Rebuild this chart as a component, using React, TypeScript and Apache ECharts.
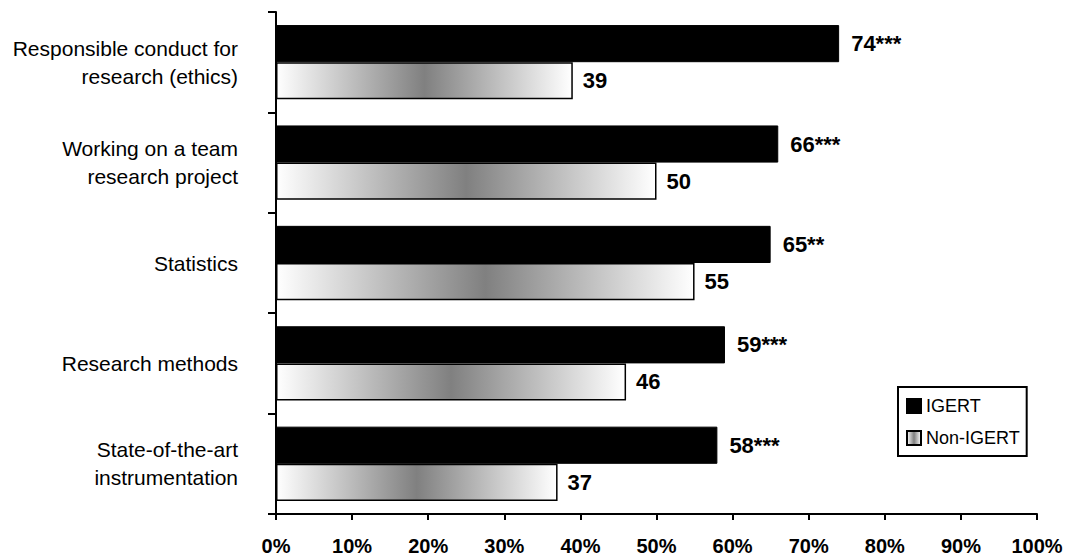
import React, { useEffect, useRef } from "react";
import * as echarts from "echarts";

const categories = [
  "Responsible conduct for\nresearch (ethics)",
  "Working on a team\nresearch project",
  "Statistics",
  "Research methods",
  "State-of-the-art\ninstrumentation",
];
const igertValues = [74, 66, 65, 59, 58];
const igertSig = ["***", "***", "**", "***", "***"];
const nonIgertValues = [39, 50, 55, 46, 37];
const xTicks = { min: 0, max: 100, interval: 10 };

const FONT = 'Arial, "Liberation Sans", sans-serif';

export default function App() {
  const ref = useRef<HTMLDivElement>(null);
  useEffect(() => {
    document.body.style.margin = "0";
    const chart = echarts.init(ref.current!, null, { renderer: "svg" });
    const grad = new echarts.graphic.LinearGradient(0, 0, 1, 0, [
      { offset: 0, color: "#ffffff" },
      { offset: 0.5, color: "#808080" },
      { offset: 1, color: "#ffffff" },
    ]);
    chart.setOption({
      animation: false,
      backgroundColor: "#ffffff",
      grid: { left: 276, right: 30, top: 12, bottom: 42, containLabel: false },
      legend: {
        orient: "vertical",
        left: 898,
        top: 387,
        padding: [10, 7, 9, 8],
        itemGap: 14,
        itemWidth: 14,
        itemHeight: 14,
        icon: "rect",
        borderColor: "#000",
        borderWidth: 2,
        backgroundColor: "#fff",
        textStyle: { fontFamily: FONT, fontSize: 18, color: "#000" },
        data: ["IGERT", "Non-IGERT"],
      },
      xAxis: {
        type: "value",
        min: xTicks.min,
        max: xTicks.max,
        interval: xTicks.interval,
        axisLine: { show: true, lineStyle: { color: "#000", width: 2 } },
        axisTick: { show: true, length: 6, lineStyle: { color: "#000", width: 2 } },
        splitLine: { show: false },
        axisLabel: {
          formatter: "{value}%",
          fontFamily: FONT,
          fontWeight: "bold",
          fontSize: 20,
          color: "#000",
          margin: 22,
        },
      },
      yAxis: {
        type: "category",
        inverse: true,
        data: categories,
        axisLine: { show: true, lineStyle: { color: "#000", width: 2 } },
        axisTick: { show: true, length: 8, lineStyle: { color: "#000", width: 2 } },
        axisLabel: {
          fontFamily: FONT,
          fontSize: 21,
          lineHeight: 28,
          color: "#000",
          align: "right",
          margin: 38,
        },
      },
      series: [
        {
          name: "IGERT",
          type: "bar",
          data: igertValues,
          barGap: "0%",
          barCategoryGap: "26%",
          itemStyle: { color: "#000", borderColor: "#000", borderWidth: 1 },
          label: {
            show: true,
            position: "right",
            distance: 12,
            fontFamily: FONT,
            fontWeight: "bold",
            fontSize: 22,
            color: "#000",
            formatter: (p: any) => `${p.value}${igertSig[p.dataIndex]}`,
          },
        },
        {
          name: "Non-IGERT",
          type: "bar",
          data: nonIgertValues,
          barGap: "0%",
          barCategoryGap: "26%",
          itemStyle: { color: grad, borderColor: "#000", borderWidth: 1.5 },
          label: {
            show: true,
            position: "right",
            distance: 10,
            fontFamily: FONT,
            fontWeight: "bold",
            fontSize: 22,
            color: "#000",
          },
        },
      ],
    });
    return () => chart.dispose();
  }, []);
  return <div ref={ref} style={{ width: 1067, height: 556 }} />;
}
